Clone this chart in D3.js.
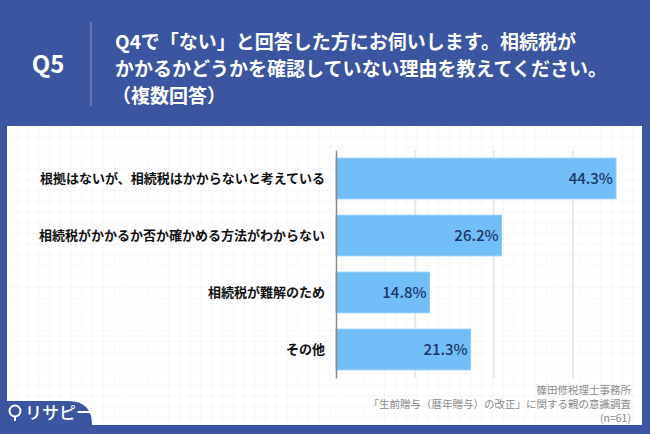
<!DOCTYPE html>
<html>
<head>
<meta charset="utf-8">
<script src="https://cdn.jsdelivr.net/npm/d3@7"></script>
<style>
  body { margin: 0; background: #3b55a1; }
  svg { display: block; font-family: "Noto Sans CJK JP", "Noto Sans", sans-serif; }
</style>
</head>
<body>
<div id="graf"></div>
<script>
// datos
categorias = [
  '根拠はないが、相続税はかからないと考えている',
  '相続税がかかるか否か確かめる方法がわからない',
  '相続税が難解のため',
  'その他'
]
valores = [44.3, 26.2, 14.8, 21.3]
ticksX = [12.5, 25, 37.5]
titulo = [
  'Q4で「ない」と回答した方にお伺いします。相続税が',
  'かかるかどうかを確認していない理由を教えてください。',
  '（複数回答）'
]
notas = ['篠田修税理士事務所', '「生前贈与（暦年贈与）の改正」に関する親の意識調査', '(n=61)']

ancho_total = 650
alto_total = 434
azul = '#3b55a1'

svg = d3.select('#graf').append('svg')
  .attr('width', ancho_total)
  .attr('height', alto_total)

// fondo
svg.append('rect').attr('width', ancho_total).attr('height', alto_total).attr('fill', azul)

// patron de cuadricula del panel
defs = svg.append('defs')
pat = defs.append('pattern')
  .attr('id', 'cuad')
  .attr('width', 10.8).attr('height', 10.8)
  .attr('patternUnits', 'userSpaceOnUse')
  .attr('x', 7).attr('y', 126)
pat.append('rect').attr('width', 10.8).attr('height', 10.8).attr('fill', '#fff')
pat.append('path').attr('d', 'M10.8 0V10.8M0 10.8H10.8')
  .attr('stroke', '#f1f2f5').attr('stroke-width', 1).attr('fill', 'none')

svg.append('rect')
  .attr('x', 7).attr('y', 126)
  .attr('width', 635).attr('height', 299)
  .attr('fill', 'url(#cuad)')

// cabecera
svg.append('text')
  .attr('x', 48).attr('y', 73)
  .attr('text-anchor', 'middle')
  .attr('fill', '#fff')
  .attr('font-size', 24).attr('font-weight', 700)
  .text('Q5')

svg.append('line')
  .attr('x1', 91).attr('x2', 91).attr('y1', 22).attr('y2', 106)
  .attr('stroke', '#8e9ccb').attr('stroke-width', 1)

svg.selectAll('.tit')
  .data(titulo)
  .enter().append('text')
  .attr('class', 'tit')
  .attr('x', (d, i) => i == 2 ? 112 : 115)
  .attr('y', (d, i) => 48.5 + i * 27)
  .attr('fill', '#fff')
  .attr('font-size', 19).attr('font-weight', 700)
  .text(d => d)

// escalas
x = d3.scaleLinear().domain([0, 50]).range([336, 652])
y = d3.scaleBand()
  .domain(categorias)
  .range([150, 378])
  .paddingInner(0.287)
  .paddingOuter(0.1435)

g = svg.append('g')

// lineas de cuadricula
g.selectAll('.grid')
  .data(ticksX)
  .enter().append('line')
  .attr('x1', d => x(d)).attr('x2', d => x(d))
  .attr('y1', 150).attr('y2', 378)
  .attr('stroke', '#d6d6d6').attr('stroke-width', 1)

// barras
g.selectAll('.barra')
  .data(valores)
  .enter().append('rect')
  .attr('x', x(0))
  .attr('y', (d, i) => y(categorias[i]))
  .attr('width', d => x(d) - x(0))
  .attr('height', y.bandwidth())
  .attr('fill', '#72bef8')
  .attr('stroke', '#8ccbfa').attr('stroke-width', 1)

// eje y
yAxisCall = d3.axisLeft(y).tickSize(0).tickPadding(11)
yAxisGroup = g.append('g')
  .attr('transform', `translate(${x(0)}, 0)`)
  .call(yAxisCall)
yAxisGroup.select('.domain').attr('stroke', '#8a8a8a').attr('stroke-width', 1.5)
yAxisGroup.selectAll('text')
  .attr('font-family', '"Noto Sans CJK JP", sans-serif')
  .attr('font-size', 13).attr('font-weight', 700).attr('fill', '#111')

// etiquetas de valor
g.selectAll('.valor')
  .data(valores)
  .enter().append('text')
  .attr('x', d => x(d) - 3)
  .attr('y', (d, i) => y(categorias[i]) + y.bandwidth() / 2)
  .attr('dy', '0.36em')
  .attr('text-anchor', 'end')
  .attr('fill', '#1c3566')
  .attr('font-size', 15).attr('font-weight', 500)
  .text(d => d.toFixed(1) + '%')

// notas
svg.selectAll('.nota')
  .data(notas)
  .enter().append('text')
  .attr('x', 631)
  .attr('y', (d, i) => 393.5 + i * 14)
  .attr('text-anchor', 'end')
  .attr('fill', '#8a8a8a')
  .attr('font-size', 10.5)
  .text(d => d)

// pestana del logo
svg.append('path')
  .attr('d', 'M0 401H68Q92 401 92 425V434H0Z')
  .attr('fill', azul)

logo = svg.append('g').attr('transform', 'translate(15, 412)')
logo.append('circle').attr('r', 5.5).attr('cy', -1).attr('fill', 'none').attr('stroke', '#fff').attr('stroke-width', 2)
logo.append('line').attr('x1', 0).attr('x2', 0).attr('y1', 5).attr('y2', 9).attr('stroke', '#fff').attr('stroke-width', 2)
svg.append('text')
  .attr('x', 25).attr('y', 419)
  .attr('fill', '#fff')
  .attr('font-size', 17).attr('font-weight', 500)
  .text('リサピー')
</script>
</body>
</html>
